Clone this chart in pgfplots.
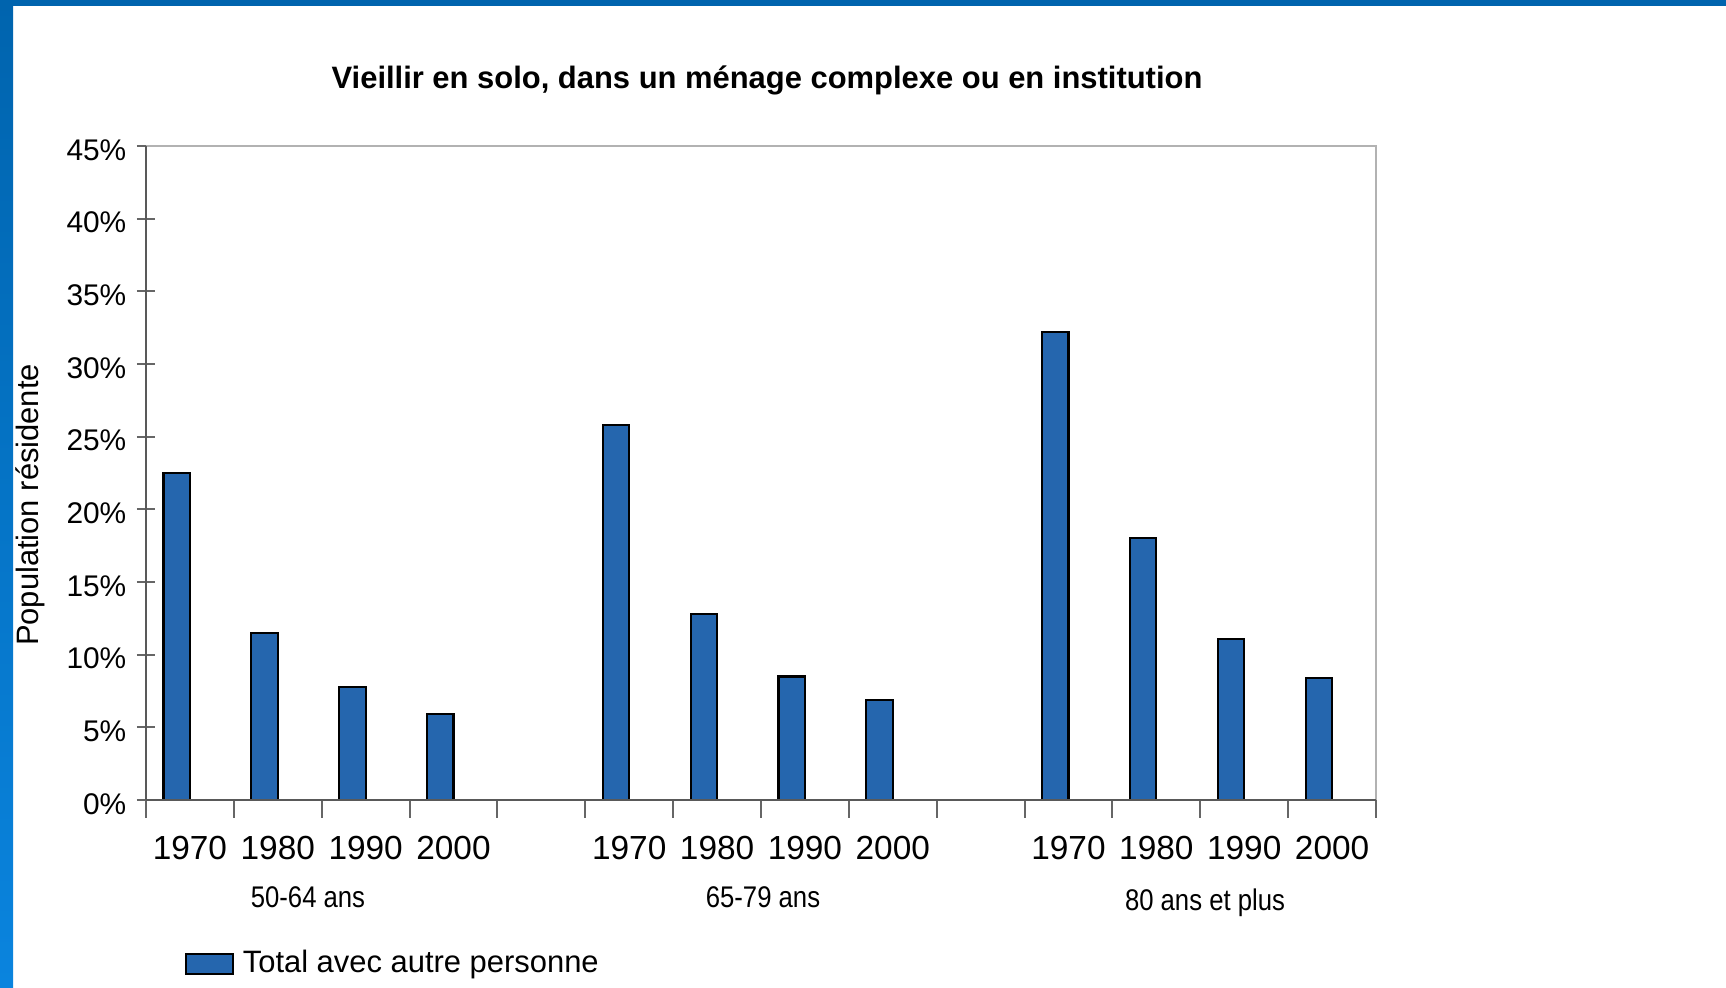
\documentclass[border=0pt]{standalone}
\usepackage{fontspec}
\setmainfont{Liberation Sans}
\newfontfamily\condfont[FakeStretch=0.86]{Liberation Sans}
\usepackage{pgfplots}
\pgfplotsset{compat=1.18}
\definecolor{barblue}{HTML}{2566AE}
\definecolor{frametop}{HTML}{0064AE}
\definecolor{framebot}{HTML}{0A84DE}

\begin{document}
\begin{tikzpicture}
\useasboundingbox (0,0) rectangle (17.26,9.88);
\fill[white] (0,0) rectangle (17.26,9.88);
\fill[frametop] (0,9.823) rectangle (17.26,9.88);
\shade[top color=frametop,bottom color=framebot] (0,0) rectangle (0.13,9.88);
\begin{axis}[
  at={(1.46cm,1.88cm)},anchor=south west,
  scale only axis,width=12.30cm,height=6.54cm,
  xmin=-0.5,xmax=13.5,ymin=0,ymax=45,
  ytick={0,5,...,45},
  yticklabel={\pgfmathprintnumber{\tick}\%},
  xtick={-0.5,0.5,...,13.5},xticklabels={},
  extra x ticks={0,1,2,3,5,6,7,8,10,11,12,13},
  extra x tick labels={1970,1980,1990,2000,1970,1980,1990,2000,1970,1980,1990,2000},
  extra x tick style={major tick length=0pt,
    xticklabel style={anchor=center,yshift=-0.48cm,font=\fontsize{9.5}{11}\selectfont}},
  tick align=center,major tick length=0.18cm,
  tick style={gray!80!black,line width=0.6pt},
  yticklabel style={anchor=east,inner sep=0pt,xshift=-0.1cm,yshift=-0.04cm,
    font=\fontsize{8.5}{10}\selectfont},
  /pgf/number format/assume math mode=true,
  axis line style={gray!60,line width=0.8pt},
  axis x line*=bottom,
  axis y line*=left,
  ybar,bar width=0.264cm,bar shift=-0.132cm,
  legend style={at={(axis description cs:0.0309,-0.2508)},anchor=west,
    draw=none,fill=none,inner sep=0pt,column sep=0.09cm,
    nodes={inner sep=0pt},font=\fontsize{8.8}{10}\selectfont},
  legend image code/.code={\draw[fill=barblue,draw=black,line width=0.6pt]
    (0cm,-0.1cm) rectangle (0.47cm,0.1cm);},
  clip=false
]
\addplot[fill=barblue,draw=black,line width=0.6pt] coordinates {
  (0,22.5) (1,11.5) (2,7.8) (3,5.9)
  (5,25.8) (6,12.8) (7,8.5) (8,6.9)
  (10,32.2) (11,18.0) (12,11.1) (13,8.4)};
\addlegendentry{Total avec autre personne}
\draw[gray!60,line width=0.8pt] (rel axis cs:0,1) -- (rel axis cs:1,1) -- (rel axis cs:1,0);
\draw[gray!70!black,line width=0.8pt] (rel axis cs:0,0) -- (rel axis cs:0,1);
\draw[gray!70!black,line width=0.8pt] (rel axis cs:0,0) -- (rel axis cs:1,0);
\end{axis}
\node[font=\bfseries\fontsize{8.8}{10}\selectfont] at (7.67,9.08)
  {Vieillir en solo, dans un ménage complexe ou en institution};
\node[rotate=90,font=\fontsize{8.8}{10}\selectfont] at (0.30,4.83) {Population résidente};
\node[font=\condfont\fontsize{8.5}{10}\selectfont] at (3.08,0.91) {50-64 ans};
\node[font=\condfont\fontsize{8.5}{10}\selectfont] at (7.63,0.91) {65-79 ans};
\node[font=\condfont\fontsize{8.5}{10}\selectfont] at (12.05,0.85) {80 ans et plus};
\end{tikzpicture}
\end{document}
